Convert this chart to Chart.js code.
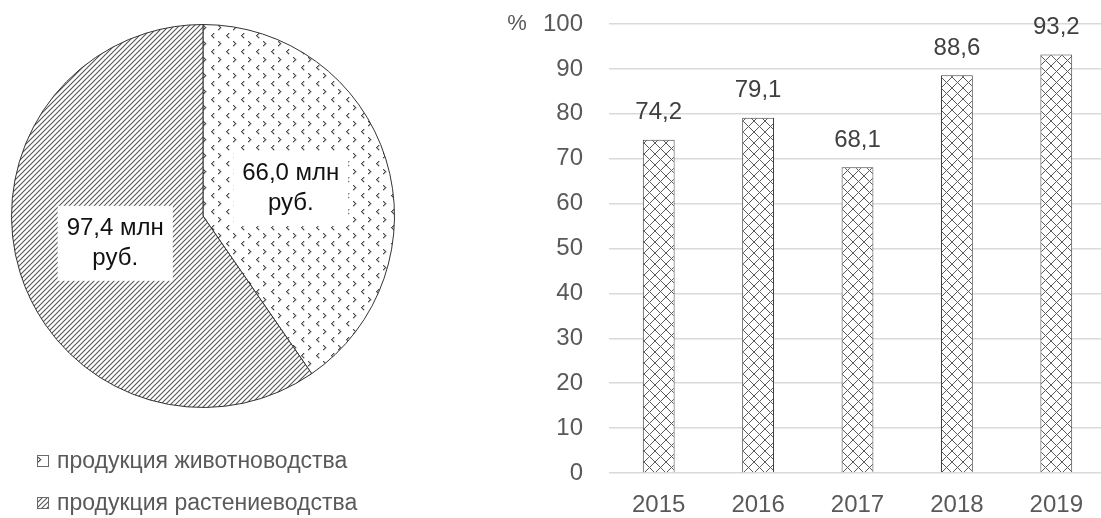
<!DOCTYPE html>
<html>
<head>
<meta charset="utf-8">
<script src="https://cdn.jsdelivr.net/npm/chart.js@4.4.1/dist/chart.umd.min.js"></script>
<style>
  html, body { margin: 0; padding: 0; background: #fff; width: 1101px; height: 518px; overflow: hidden; }
  #pie { position: absolute; left: 0; top: 0; }
  #bar { position: absolute; left: 490px; top: 0; }
</style>
</head>
<body>
<canvas id="pie" width="420" height="518"></canvas>
<canvas id="bar" width="616" height="518"></canvas>
<script>
// ---- data ----
const pieLabels = ['продукция животноводства', 'продукция растениеводства'];
const pieValues = [66.0, 97.4];
const pieUnitLine1 = 'млн';
const pieUnitLine2 = 'руб.';
const years = ['2015', '2016', '2017', '2018', '2019'];
const shares = [74.2, 79.1, 68.1, 88.6, 93.2];
const yMin = 0, yMax = 100, yStep = 10;
const yUnit = '%';

const FONT = "'Liberation Sans', Arial, sans-serif";
Chart.defaults.font.family = FONT;

function fmt(v) { return v.toFixed(1).replace('.', ','); }

// ---- patterns ----
function makeTile(w, h, draw) {
  const c = document.createElement('canvas');
  c.width = w; c.height = h;
  const g = c.getContext('2d');
  g.fillStyle = '#fff'; g.fillRect(0, 0, w, h);
  draw(g);
  return c;
}
const dotsTile = makeTile(15, 16, g => {
  g.fillStyle = '#4a4a4a';
  [[2,0],[1,1],[0,2],[1,3],[2,4]].forEach(([x,y]) => g.fillRect(x + 1, y + 1, 1.3, 1.3));
  [[0,0],[1,1],[2,2],[1,3],[0,4]].forEach(([x,y]) => g.fillRect(x + 8, y + 9, 1.3, 1.3));
});
const stripeTile = makeTile(5, 5, g => {
  g.strokeStyle = '#555'; g.lineWidth = 1.1;
  g.beginPath();
  g.moveTo(-1, 6); g.lineTo(6, -1);
  g.moveTo(-6, 6); g.lineTo(1, -1);
  g.moveTo(4, 6); g.lineTo(11, -1);
  g.stroke();
});
const crossTile = makeTile(11, 11, g => {
  g.strokeStyle = '#5a5a5a'; g.lineWidth = 1;
  g.beginPath();
  g.moveTo(0, 0); g.lineTo(11, 11);
  g.moveTo(11, 0); g.lineTo(0, 11);
  g.stroke();
});

const pieCtx = document.getElementById('pie').getContext('2d');
const barCtx = document.getElementById('bar').getContext('2d');
const dotsPat = pieCtx.createPattern(dotsTile, 'repeat');
const stripePat = pieCtx.createPattern(stripeTile, 'repeat');
const crossPat = barCtx.createPattern(crossTile, 'repeat');

// ---- pie chart ----
const pieLabelPlugin = {
  id: 'pieLabels',
  afterDatasetsDraw(chart) {
    const ctx = chart.ctx;
    const meta = chart.getDatasetMeta(0);
    ctx.save();
    ctx.font = '24px ' + FONT;
    meta.data.forEach((el, i) => {
      const p = el.getProps(['x', 'y', 'startAngle', 'endAngle', 'outerRadius'], true);
      const mid = (p.startAngle + p.endAngle) / 2;
      const cx = p.x + Math.cos(mid) * p.outerRadius * 0.48;
      const cy = p.y + Math.sin(mid) * p.outerRadius * 0.48;
      const l1 = fmt(chart.data.datasets[0].data[i]) + ' ' + pieUnitLine1;
      const l2 = pieUnitLine2;
      const w = Math.max(ctx.measureText(l1).width, ctx.measureText(l2).width) + 18;
      const lh = 30, h = 2 * lh + 15;
      ctx.fillStyle = '#fff';
      ctx.fillRect(cx - w / 2, cy - h / 2, w, h);
      ctx.fillStyle = '#111';
      ctx.textAlign = 'center';
      ctx.textBaseline = 'middle';
      ctx.fillText(l1, cx, cy - lh / 2);
      ctx.fillText(l2, cx, cy + lh / 2);
    });
    // legend
    const rows = [461, 503];
    const pats = chart.data.datasets[0].backgroundColor;
    chart.data.labels.forEach((lab, i) => {
      const y = rows[i];
      ctx.fillStyle = pats[i];
      ctx.fillRect(37, y - 6, 12, 12);
      ctx.strokeStyle = '#6a6a6a'; ctx.lineWidth = 1;
      ctx.strokeRect(37.5, y - 5.5, 11, 11);
      ctx.fillStyle = '#595959';
      ctx.font = '23px ' + FONT;
      ctx.textAlign = 'left';
      ctx.textBaseline = 'middle';
      ctx.fillText(lab, 57, y + 1);
    });
    ctx.restore();
  }
};

new Chart(pieCtx, {
  type: 'pie',
  data: {
    labels: pieLabels,
    datasets: [{
      data: pieValues,
      backgroundColor: [dotsPat, stripePat],
      borderColor: '#333',
      borderWidth: 1
    }]
  },
  options: {
    responsive: false,
    animation: false,
    layout: { padding: { left: 11, top: 24, right: 25, bottom: 110 } },
    plugins: { legend: { display: false }, tooltip: { enabled: false } }
  },
  plugins: [pieLabelPlugin]
});

// ---- bar chart ----
const barLabelPlugin = {
  id: 'barLabels',
  afterDatasetsDraw(chart) {
    const ctx = chart.ctx;
    ctx.save();
    ctx.font = '24px ' + FONT;
    ctx.fillStyle = '#404040';
    ctx.textAlign = 'center';
    ctx.textBaseline = 'middle';
    chart.getDatasetMeta(0).data.forEach((el, i) => {
      ctx.fillText(fmt(chart.data.datasets[0].data[i]), el.x, el.y - 27);
    });
    const ys = chart.scales.y;
    ctx.fillStyle = '#595959';
    ctx.font = '22px ' + FONT;
    ctx.fillText(yUnit, 27, ys.getPixelForValue(yMax));
    ctx.restore();
  }
};

new Chart(barCtx, {
  type: 'bar',
  data: {
    labels: years,
    datasets: [{
      data: shares,
      backgroundColor: crossPat,
      borderColor: '#404040',
      borderWidth: 1,
      barPercentage: 0.32,
      categoryPercentage: 1
    }]
  },
  options: {
    responsive: false,
    animation: false,
    layout: { padding: { top: 24, left: 0, right: 0, bottom: 0 } },
    plugins: { legend: { display: false }, tooltip: { enabled: false } },
    scales: {
      x: {
        grid: { display: false },
        border: { display: false },
        ticks: { color: '#595959', font: { size: 24 }, padding: 10 },
        afterFit(s) { s.height = 45; s.paddingLeft = 0; s.paddingRight = 0; }
      },
      y: {
        min: yMin, max: yMax,
        ticks: { stepSize: yStep, color: '#595959', font: { size: 24 }, padding: 26 },
        grid: { color: '#d9d9d9', lineWidth: 1.5, drawTicks: false },
        border: { display: false },
        afterFit(s) { s.width = 119; s.paddingTop = 0; s.paddingBottom = 0; }
      }
    }
  },
  plugins: [barLabelPlugin]
});
</script>
</body>
</html>
